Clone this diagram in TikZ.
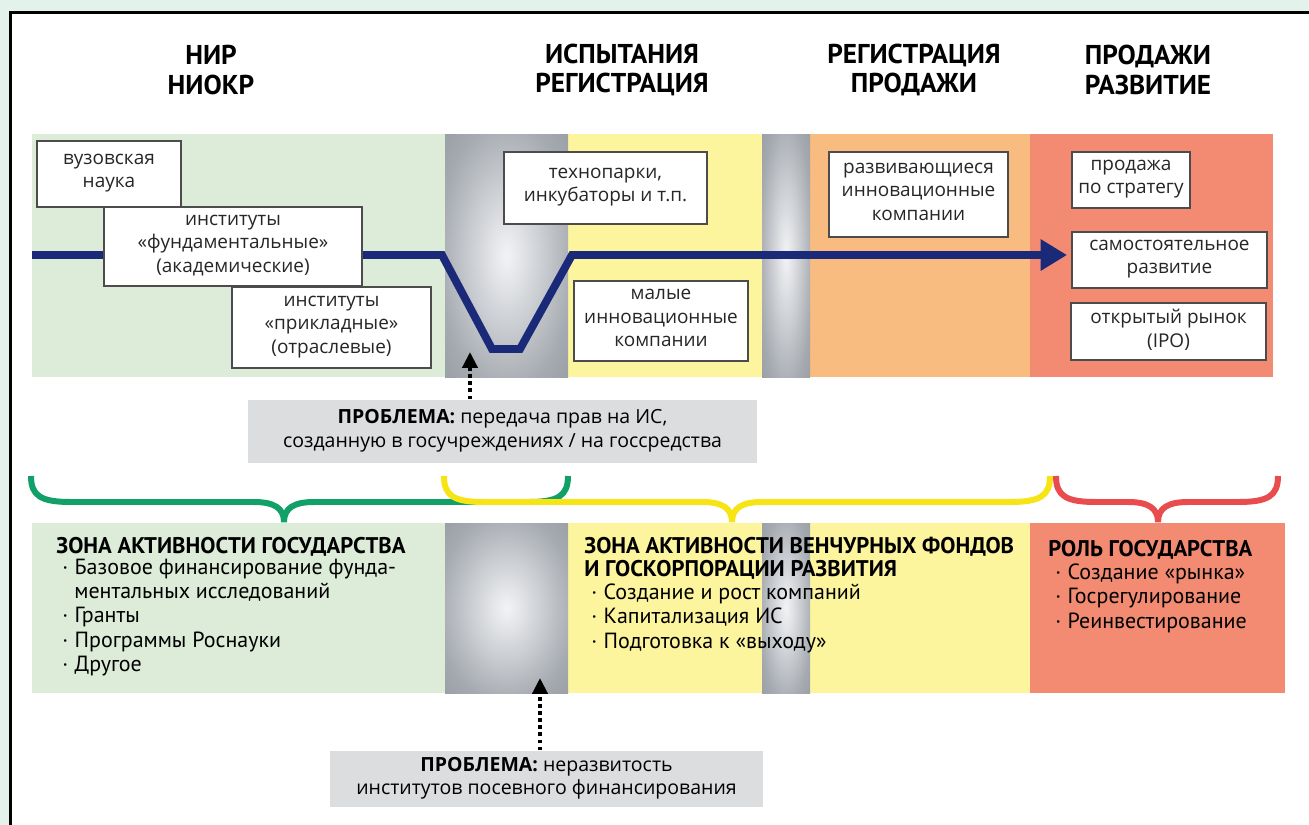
\documentclass[tikz,border=0pt]{standalone}
\usepackage{fontspec}
\setmainfont{Open Sans}
\newfontfamily\condfont{PT Sans}
\usetikzlibrary{arrows.meta}

\definecolor{pagegreen}{RGB}{227,242,234}
\definecolor{bandgreen}{RGB}{220,236,216}
\definecolor{bandyellow}{RGB}{253,244,158}
\definecolor{bandorange}{RGB}{248,187,128}
\definecolor{bandred}{RGB}{242,139,114}
\definecolor{metallight}{RGB}{242,243,245}
\definecolor{metalmid}{RGB}{165,170,176}
\definecolor{metaldark}{RGB}{135,141,149}
\definecolor{navy}{RGB}{26,42,120}
\definecolor{probgray}{RGB}{220,221,222}
\definecolor{bracegreen}{RGB}{16,160,104}
\definecolor{braceyellow}{RGB}{247,228,20}
\definecolor{bracered}{RGB}{232,76,76}

\pgfdeclareradialshading{metal}{\pgfpointorigin}{color(0bp)=(metallight); color(6bp)=(metallight!80!metalmid); color(28bp)=(metalmid); color(50bp)=(metaldark)}

\begin{document}
\begin{tikzpicture}[x=0.02cm,y=-0.02cm,
  box/.style={draw=black!70,line width=0.7pt,fill=white,inner sep=0pt,align=center,
    text=black!85,font=\fontsize{10.8}{13.4}\selectfont,
    execute at begin node=\rule{0pt}{9.5pt},execute at end node=\rule[-3.5pt]{0pt}{3.5pt}},
  size/.style 2 args={minimum width=#1*0.02cm,minimum height=#2*0.02cm},
  problem/.style={box,draw=none,fill=probgray,font=\fontsize{11.1}{13.6}\selectfont,text=black},
  head/.style={align=center,font=\condfont\bfseries\fontsize{15.5}{17}\selectfont},
  zonetitle/.style={anchor=base west,inner sep=0pt,font=\condfont\bfseries\fontsize{12.9}{13.5}\selectfont},
  item/.style={anchor=base west,inner sep=0pt,font=\condfont\fontsize{12.5}{13.6}\selectfont},
  flow/.style={line width=4.5pt,navy,-{Triangle[length=15pt,width=17pt]}},
  dotline/.style={line width=2.2pt,dash pattern=on 2.2pt off 1.8pt,-{Triangle[length=9pt,width=8.5pt]}}]
\clip (0,0) rectangle (1309,825);
\fill[pagegreen] (0,0) rectangle (1309,825);
\draw[line width=1.7pt,fill=white] (10.5,12.5) rectangle (1340,860);

% headers
\node[head] (h1) at (211,70) {НИР\\НИОКР};
\node[head] (h2) at (622,70) {ИСПЫТАНИЯ\\РЕГИСТРАЦИЯ};
\node[head] (h3) at (914,70) {РЕГИСТРАЦИЯ\\ПРОДАЖИ};
\node[head] (h4) at (1148,70) {ПРОДАЖИ\\РАЗВИТИЕ};

% stages
\foreach \a/\b/\c in {32/445/bandgreen,568/762/bandyellow,810/1030/bandorange,1030/1273/bandred}
  \fill[\c] (\a,134) rectangle (\b,377);
\foreach \a/\b in {445/568,762/810}
  \shade[shading=metal] (\a,134) rectangle (\b,377);

\draw[flow] (32,255) -- (442,255) -- (492,349) -- (520,349) -- (572,255) -- (1067,255);

\node[box,size={144}{66}] (vuz) at (109,174) {вузовская\\наука};
\node[box,size={258}{79}] (fund) at (233,246.5) {институты\\«фундаментальные»\\(академические)};
\node[box,size={199}{81}] (prikl) at (331.5,327.5) {институты\\«прикладные»\\(отраслевые)};
\node[box,size={203}{72}] (tech) at (605.5,188) {технопарки,\\инкубаторы и т.п.};
\node[box,size={174}{80}] (small) at (661,321) {малые\\инновационные\\компании};
\node[box,size={179}{85}] (grow) at (918.5,194.5) {развивающиеся\\инновационные\\компании};
\node[box,size={118}{56}] (sale) at (1131,180) {продажа\\по стратегу};
\node[box,size={195}{56}] (self) at (1169.5,260) {самостоятельное\\развитие};
\node[box,size={195}{57}] (ipo) at (1168.5,331.5) {открытый рынок\\(IPO)};

% problem 1
\node[problem,size={509}{63}] (prob1) at (502.5,431.5)
  {\textbf{ПРОБЛЕМА:} передача прав на ИС,\\созданную в госучреждениях / на госсредства};
\coordinate (gap1) at (470,352);
\draw[dotline] (prob1.north -| gap1) -- (gap1);

% braces
\foreach \a/\t/\b/\c in {31/284/568/bracegreen,444/732/1050/braceyellow,1056/1158/1278/bracered}
  \draw[\c,line width=3.4pt] (\a,476) .. controls (\a,496) and (\a+10,502) .. (\a+40,502)
    -- (\t-30,502) .. controls (\t-10,502) and (\t,508) .. (\t,522)
    .. controls (\t,508) and (\t+10,502) .. (\t+30,502)
    -- (\b-40,502) .. controls (\b-10,502) and (\b,496) .. (\b,476);

% zones
\foreach \a/\b/\c in {32/445/bandgreen,568/762/bandyellow,810/1030/bandyellow,1030/1285/bandred}
  \fill[\c] (\a,523) rectangle (\b,693);
\foreach \a/\b in {445/568,762/810}
  \shade[shading=metal] (\a,523) rectangle (\b,693);

\node[zonetitle] (zgov) at (56,553) {ЗОНА АКТИВНОСТИ ГОСУДАРСТВА};
\node[item] (g1) at (62,574) {\makebox[7pt][l]{·}Базовое финансирование фунда-};
\node[item] (g1b) at (74,598) {ментальных исследований};
\node[item] (g2) at (62,622) {\makebox[7pt][l]{·}Гранты};
\node[item] (g3) at (62,647) {\makebox[7pt][l]{·}Программы Роснауки};
\node[item] (g4) at (62,671) {\makebox[7pt][l]{·}Другое};

\node[zonetitle] (zvc) at (584,553) {ЗОНА АКТИВНОСТИ ВЕНЧУРНЫХ ФОНДОВ};
\node[zonetitle] (zvc2) at (584,576) {И ГОСКОРПОРАЦИИ РАЗВИТИЯ};
\node[item] (v1) at (591,599) {\makebox[7pt][l]{·}Создание и рост компаний};
\node[item] (v2) at (591,623) {\makebox[7pt][l]{·}Капитализация ИС};
\node[item] (v3) at (591,648) {\makebox[7pt][l]{·}Подготовка к «выходу»};

\node[zonetitle] (zrole) at (1048,556) {РОЛЬ ГОСУДАРСТВА};
\node[item] (r1) at (1055,579) {\makebox[7pt][l]{·}Создание «рынка»};
\node[item] (r2) at (1055,603) {\makebox[7pt][l]{·}Госрегулирование};
\node[item] (r3) at (1055,628) {\makebox[7pt][l]{·}Реинвестирование};

% problem 2
\node[problem,size={433}{56}] (prob2) at (546.5,779)
  {\textbf{ПРОБЛЕМА:} неразвитость\\институтов посевного финансирования};
\coordinate (gap2) at (540,678);
\draw[dotline] (prob2.north -| gap2) -- (gap2);
\end{tikzpicture}
\end{document}
